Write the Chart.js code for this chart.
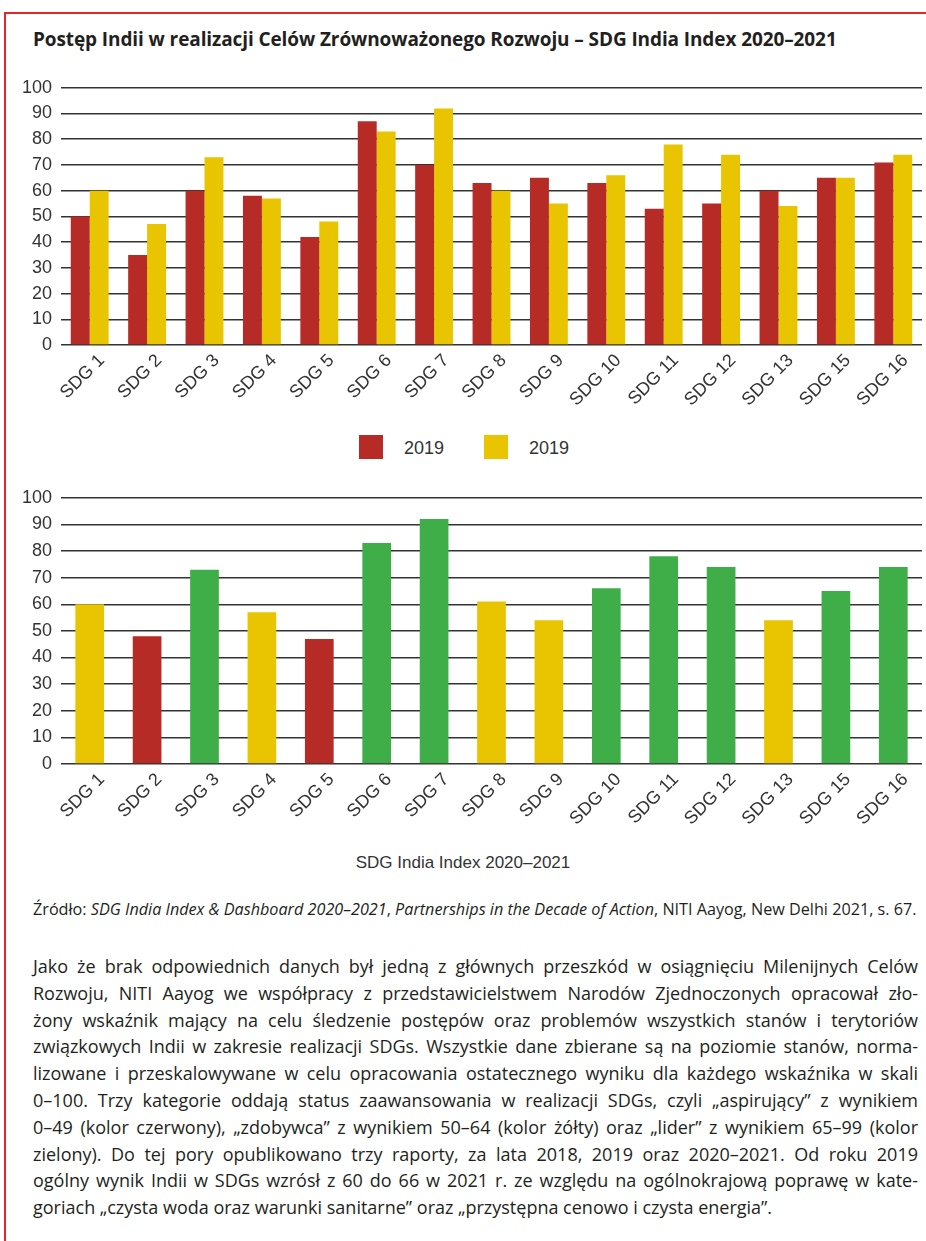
<!DOCTYPE html>
<html>
<head>
<meta charset="utf-8">
<script src="https://cdn.jsdelivr.net/npm/chart.js@4.4.1/dist/chart.umd.min.js"></script>
<style>
  html, body { margin: 0; padding: 0; background: #fff; }
  body { width: 926px; height: 1241px; position: relative; overflow: hidden; font-family: "Open Sans", "Noto Sans", sans-serif; color: #231f20; }
  .frame { position: absolute; left: 4px; top: 12px; width: 1000px; height: 1300px; border-top: 2px solid #e3262b; border-left: 2px solid #e3262b; }
  .title { position: absolute; left: 33px; top: 26px; font-weight: 700; font-size: 19px; white-space: nowrap; letter-spacing: -0.1px; }
  .box { position: absolute; left: 0; width: 926px; }
  .legend { position: absolute; top: 435px; left: 0; width: 926px; height: 24px; font-family: "Liberation Sans", Arial, sans-serif; font-size: 18px; color: #333; }
  .legend span.sq { position: absolute; top: 0; width: 24px; height: 24px; }
  .legend span.tx { position: absolute; top: 1px; line-height: 24px; }
  .axis-title { position: absolute; top: 853px; left: 0; width: 926px; text-align: center; font-family: "Liberation Sans", Arial, sans-serif; font-size: 17px; color: #333; }
  .source { position: absolute; left: 33px; top: 898px; font-size: 16.2px; white-space: nowrap; }
  .para { position: absolute; left: 33px; top: 953px; width: 885px; font-size: 18px; line-height: 26.8px; }
  .para div { text-align: justify; text-align-last: justify; white-space: nowrap; }
  .para div.last { text-align-last: left; }
</style>
</head>
<body>
<div class="frame"></div>
<div class="title">Postęp Indii w realizacji Celów Zrównoważonego Rozwoju – SDG India Index 2020–2021</div>

<div class="box" style="top:68px;height:362px;"><canvas id="topChart"></canvas></div>
<div class="legend" id="legend"></div>

<div class="box" style="top:478px;height:371px;"><canvas id="bottomChart"></canvas></div>
<div class="axis-title">SDG India Index 2020–2021</div>

<div class="source">Źródło: <i>SDG India Index &amp; Dashboard 2020–2021</i>, <i>Partnerships in the Decade of Action</i>, NITI Aayog, New Delhi 2021, s. 67.</div>

<div class="para">
  <div>Jako że brak odpowiednich danych był jedną z głównych przeszkód w osiągnięciu Milenijnych Celów</div>
  <div>Rozwoju, NITI Aayog we współpracy z przedstawicielstwem Narodów Zjednoczonych opracował zło-</div>
  <div>żony wskaźnik mający na celu śledzenie postępów oraz problemów wszystkich stanów i terytoriów</div>
  <div>związkowych Indii w zakresie realizacji SDGs. Wszystkie dane zbierane są na poziomie stanów, norma-</div>
  <div>lizowane i przeskalowywane w celu opracowania ostatecznego wyniku dla każdego wskaźnika w skali</div>
  <div>0–100. Trzy kategorie oddają status zaawansowania w realizacji SDGs, czyli „aspirujący” z wynikiem</div>
  <div>0–49 (kolor czerwony), „zdobywca” z wynikiem 50–64 (kolor żółty) oraz „lider” z wynikiem 65–99 (kolor</div>
  <div>zielony). Do tej pory opublikowano trzy raporty, za lata 2018, 2019 oraz 2020–2021. Od roku 2019</div>
  <div>ogólny wynik Indii w SDGs wzrósł z 60 do 66 w 2021 r. ze względu na ogólnokrajową poprawę w kate-</div>
  <div class="last">goriach „czysta woda oraz warunki sanitarne” oraz „przystępna cenowo i czysta energia”.</div>
</div>

<script>
// categories and values
const categories = ["SDG 1", "SDG 2", "SDG 3", "SDG 4", "SDG 5", "SDG 6", "SDG 7", "SDG 8",
  "SDG 9", "SDG 10", "SDG 11", "SDG 12", "SDG 13", "SDG 15", "SDG 16"];
const seriesNames = ["2019", "2019"];
const values2019a = [50, 35, 60, 58, 42, 87, 70, 63, 65, 63, 53, 55, 60, 65, 71];
const values2019b = [60, 47, 73, 57, 48, 83, 92, 60, 55, 66, 78, 74, 54, 65, 74];
const index2021 = [60, 48, 73, 57, 47, 83, 92, 61, 54, 66, 78, 74, 54, 65, 74];
const yTicks = [0, 10, 20, 30, 40, 50, 60, 70, 80, 90, 100];

const RED = "#b72b27";
const YELLOW = "#e8c500";
const GREEN = "#3fae49";
const seriesColors = [RED, YELLOW];

// status colour: aspirant < 50, performer 50-64, front runner >= 65
function statusColor(v) {
  if (v < 50) return RED;
  if (v < 65) return YELLOW;
  return GREEN;
}

const tickFont = { family: "'Liberation Sans', Arial, sans-serif", size: 18 };

function scales() {
  return {
    x: {
      grid: { display: false },
      border: { display: false },
      ticks: { color: "#333", font: tickFont, minRotation: 45, maxRotation: 45, padding: -3, labelOffset: 12, autoSkip: false },
      afterFit: s => { s.height = 85; }
    },
    y: {
      min: 0,
      max: 100,
      afterBuildTicks: s => { s.ticks = yTicks.map(v => ({ value: v })); },
      grid: { color: "#333", lineWidth: 1.5, drawTicks: false },
      border: { display: false },
      ticks: { color: "#333", font: tickFont, padding: 9 },
      afterFit: s => { s.width = 61; }
    }
  };
}

new Chart(document.getElementById("topChart"), {
  type: "bar",
  data: {
    labels: categories,
    datasets: [
      { label: seriesNames[0], data: values2019a, backgroundColor: seriesColors[0], categoryPercentage: 0.66, barPercentage: 1 },
      { label: seriesNames[1], data: values2019b, backgroundColor: seriesColors[1], categoryPercentage: 0.66, barPercentage: 1 }
    ]
  },
  options: {
    responsive: true,
    maintainAspectRatio: false,
    animation: false,
    layout: { padding: { right: 4 } },
    plugins: { legend: { display: false }, tooltip: { enabled: false } },
    scales: scales()
  }
});

new Chart(document.getElementById("bottomChart"), {
  type: "bar",
  data: {
    labels: categories,
    datasets: [
      { label: "SDG India Index 2020–2021", data: index2021, backgroundColor: index2021.map(statusColor), categoryPercentage: 0.5, barPercentage: 1 }
    ]
  },
  options: {
    responsive: true,
    maintainAspectRatio: false,
    animation: false,
    layout: { padding: { right: 4 } },
    plugins: { legend: { display: false }, tooltip: { enabled: false } },
    scales: scales()
  }
});

// legend for the top chart
const legend = document.getElementById("legend");
const legendX = [359, 484];
seriesNames.forEach((name, i) => {
  const sq = document.createElement("span");
  sq.className = "sq";
  sq.style.left = legendX[i] + "px";
  sq.style.background = seriesColors[i];
  const tx = document.createElement("span");
  tx.className = "tx";
  tx.style.left = (legendX[i] + 45) + "px";
  tx.textContent = name;
  legend.appendChild(sq);
  legend.appendChild(tx);
});
</script>
</body>
</html>
